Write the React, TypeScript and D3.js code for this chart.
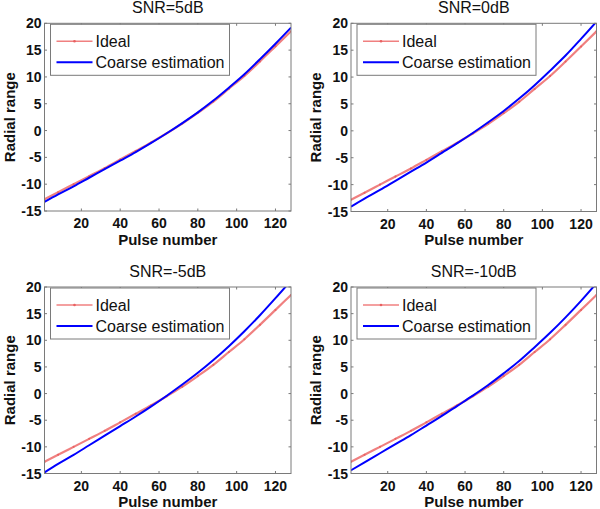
import React from "react";
import * as d3 from "d3";

const pulses = [1, 8, 16, 24, 32, 40, 48, 56, 64, 72, 80, 88, 96, 104, 112, 120, 128];
const ideal = [-12.8, -11.5, -10.0, -8.5, -7.0, -5.4, -3.8, -2.2, -0.5, 1.3, 3.3, 5.4, 7.8, 10.2, 12.9, 15.7, 18.5];
const coarse5 = [-13.3, -11.9, -10.4, -8.8, -7.2, -5.6, -4.0, -2.3, -0.5, 1.4, 3.4, 5.6, 8.0, 10.5, 13.3, 16.2, 19.2];
const coarse0 = [-14.1, -12.6, -11.0, -9.3, -7.6, -5.9, -4.1, -2.3, -0.4, 1.6, 3.7, 6.0, 8.5, 11.2, 14.0, 17.1, 20.3];
const coarseM5 = [-14.8, -13.2, -11.5, -9.7, -7.9, -6.1, -4.3, -2.4, -0.4, 1.7, 3.9, 6.3, 8.9, 11.7, 14.7, 17.9, 21.2];
const coarseM10 = [-14.4, -12.9, -11.2, -9.5, -7.8, -6.0, -4.2, -2.3, -0.4, 1.6, 3.8, 6.1, 8.7, 11.4, 14.3, 17.4, 20.7];
const titles = ["SNR=5dB", "SNR=0dB", "SNR=-5dB", "SNR=-10dB"];
const xTicks = [20, 40, 60, 80, 100, 120];
const yTicks = [-15, -10, -5, 0, 5, 10, 15, 20];
const legendLabels = ["Ideal", "Coarse estimation"];

const coarseSeries = [coarse5, coarse0, coarseM5, coarseM10];
const boxes = [
  { l: 44.5, t: 23.3, r: 291, b: 211 },
  { l: 351, t: 23.3, r: 596.5, b: 211.5 },
  { l: 44.5, t: 287, r: 291, b: 473.5 },
  { l: 351, t: 287, r: 596.5, b: 473.5 },
];

const RED = "#f08080";
const BLUE = "#0000ff";
const AXIS = "#7a7a7a";
const FONT = "'Liberation Sans', Arial, sans-serif";

function Panel({ idx }: { idx: number }) {
  const bx = boxes[idx];
  const x = d3.scaleLinear().domain([1, 128]).range([bx.l, bx.r]);
  const y = d3.scaleLinear().domain([-15, 20]).range([bx.b, bx.t]);
  const line = d3
    .line<number>()
    .x((_, i) => x(pulses[i]))
    .y((d) => y(d))
    .curve(d3.curveMonotoneX);
  const clipId = `clip${idx}`;
  const tl = 2.5;
  const lgX = bx.l + 6;
  const lgY = bx.t + 1;
  return (
    <g>
      <defs>
        <clipPath id={clipId}>
          <rect x={bx.l} y={bx.t} width={bx.r - bx.l} height={bx.b - bx.t} />
        </clipPath>
      </defs>
      <rect x={bx.l} y={bx.t} width={bx.r - bx.l} height={bx.b - bx.t} fill="#fff" />
      <g clipPath={`url(#${clipId})`}>
        <path d={line(ideal) || ""} fill="none" stroke={RED} strokeWidth={2.2} />
        {ideal.map((v, i) => (
          <circle key={i} cx={x(pulses[i])} cy={y(v)} r={1} fill="#e86060" />
        ))}
        <path d={line(coarseSeries[idx]) || ""} fill="none" stroke={BLUE} strokeWidth={2} />
      </g>
      <rect x={bx.l} y={bx.t} width={bx.r - bx.l} height={bx.b - bx.t} fill="none" stroke={AXIS} strokeWidth={1} />
      {xTicks.map((t) => (
        <g key={"x" + t}>
          <line x1={x(t)} x2={x(t)} y1={bx.b} y2={bx.b - tl} stroke={AXIS} />
          <line x1={x(t)} x2={x(t)} y1={bx.t} y2={bx.t + tl} stroke={AXIS} />
          <text x={x(t)} y={bx.b + 17} textAnchor="middle" fontSize={14} fontWeight="bold" fontFamily={FONT} fill="#111">
            {t}
          </text>
        </g>
      ))}
      {yTicks.map((t) => (
        <g key={"y" + t}>
          <line x1={bx.l} x2={bx.l + tl} y1={y(t)} y2={y(t)} stroke={AXIS} />
          <line x1={bx.r} x2={bx.r - tl} y1={y(t)} y2={y(t)} stroke={AXIS} />
          <text x={bx.l - 3} y={y(t) + 5} textAnchor="end" fontSize={14} fontWeight="bold" fontFamily={FONT} fill="#111">
            {t}
          </text>
        </g>
      ))}
      <text x={(bx.l + bx.r) / 2} y={bx.t - 10.5} textAnchor="middle" fontSize={16} fontFamily={FONT} fill="#111">
        {titles[idx]}
      </text>
      <text x={(bx.l + bx.r) / 2} y={bx.b + 33.5} textAnchor="middle" fontSize={15} fontWeight="bold" fontFamily={FONT} fill="#111">
        Pulse number
      </text>
      <text
        transform={`translate(${bx.l - 30},${(bx.t + bx.b) / 2}) rotate(-90)`}
        textAnchor="middle"
        fontSize={15}
        fontWeight="bold"
        fontFamily={FONT}
        fill="#111"
      >
        Radial range
      </text>
      <g>
        <rect x={lgX} y={lgY} width={179} height={51} fill="#fff" stroke={AXIS} strokeWidth={1} />
        <line x1={lgX + 6} x2={lgX + 42} y1={lgY + 17} y2={lgY + 17} stroke={RED} strokeWidth={1.5} />
        <circle cx={lgX + 24} cy={lgY + 17} r={1.3} fill="#e86060" />
        <text x={lgX + 45} y={lgY + 22.7} fontSize={16} fontFamily={FONT} fill="#111">
          {legendLabels[0]}
        </text>
        <line x1={lgX + 6} x2={lgX + 42} y1={lgY + 38} y2={lgY + 38} stroke={BLUE} strokeWidth={2} />
        <text x={lgX + 45} y={lgY + 43.7} fontSize={16} fontFamily={FONT} fill="#111">
          {legendLabels[1]}
        </text>
      </g>
    </g>
  );
}

export default function App() {
  return (
    <svg
      width={600}
      height={509}
      style={{ position: "absolute", left: 0, top: 0, background: "#fff" }}
    >
      <rect width={600} height={509} fill="#fff" />
      {[0, 1, 2, 3].map((i) => (
        <Panel key={i} idx={i} />
      ))}
    </svg>
  );
}
